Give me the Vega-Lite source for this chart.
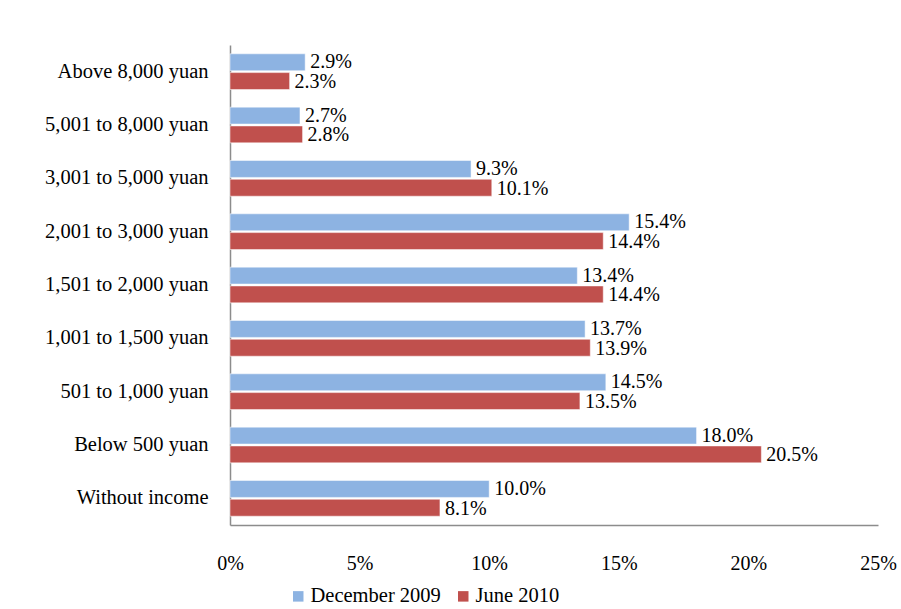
{
  "$schema": "https://vega.github.io/schema/vega-lite/v6.json",
  "width": 648,
  "height": 480,
  "autosize": {"type": "none"},
  "padding": {"left": 230, "top": 45, "right": 23, "bottom": 84},
  "background": "white",
  "config": {
    "font": "Liberation Serif",
    "view": {"stroke": null}
  },
  "data": {
    "values": [
      {"income": "Above 8,000 yuan", "series": "December 2009", "value": 0.029},
      {"income": "Above 8,000 yuan", "series": "June 2010", "value": 0.023},
      {"income": "5,001 to 8,000 yuan", "series": "December 2009", "value": 0.027},
      {"income": "5,001 to 8,000 yuan", "series": "June 2010", "value": 0.028},
      {"income": "3,001 to 5,000 yuan", "series": "December 2009", "value": 0.093},
      {"income": "3,001 to 5,000 yuan", "series": "June 2010", "value": 0.101},
      {"income": "2,001 to 3,000 yuan", "series": "December 2009", "value": 0.154},
      {"income": "2,001 to 3,000 yuan", "series": "June 2010", "value": 0.144},
      {"income": "1,501 to 2,000 yuan", "series": "December 2009", "value": 0.134},
      {"income": "1,501 to 2,000 yuan", "series": "June 2010", "value": 0.144},
      {"income": "1,001 to 1,500 yuan", "series": "December 2009", "value": 0.137},
      {"income": "1,001 to 1,500 yuan", "series": "June 2010", "value": 0.139},
      {"income": "501 to 1,000 yuan", "series": "December 2009", "value": 0.145},
      {"income": "501 to 1,000 yuan", "series": "June 2010", "value": 0.135},
      {"income": "Below 500 yuan", "series": "December 2009", "value": 0.180},
      {"income": "Below 500 yuan", "series": "June 2010", "value": 0.205},
      {"income": "Without income", "series": "December 2009", "value": 0.100},
      {"income": "Without income", "series": "June 2010", "value": 0.081}
    ]
  },
  "encoding": {
    "y": {
      "field": "income",
      "type": "nominal",
      "sort": null,
      "scale": {"paddingInner": 0.33, "paddingOuter": 0.165},
      "axis": {
        "title": null,
        "ticks": false,
        "labelFontSize": 20.5,
        "labelColor": "#000000",
        "labelPadding": 22,
        "domainColor": "#8c8c8c",
        "domainWidth": 1.5
      }
    },
    "yOffset": {
      "field": "series",
      "type": "nominal",
      "scale": {"paddingInner": 0.1}
    },
    "x": {
      "field": "value",
      "type": "quantitative",
      "scale": {"domain": [0, 0.25], "nice": false},
      "axis": {
        "title": null,
        "format": ".0%",
        "values": [0, 0.05, 0.1, 0.15, 0.2, 0.25],
        "grid": false,
        "ticks": false,
        "labelFontSize": 20,
        "labelColor": "#000000",
        "labelPadding": 28,
        "labelFlush": false,
        "domainColor": "#8c8c8c",
        "domainWidth": 1.5
      }
    }
  },
  "layer": [
    {
      "mark": {"type": "bar", "stroke": "white", "strokeWidth": 0.5},
      "encoding": {
        "color": {
          "field": "series",
          "type": "nominal",
          "scale": {"domain": ["December 2009", "June 2010"], "range": ["#8DB3E2", "#C0504D"]},
          "legend": {
            "title": null,
            "orient": "none",
            "direction": "horizontal",
            "legendX": 58,
            "legendY": 541,
            "symbolType": "square",
            "symbolSize": 110,
            "symbolStrokeWidth": 0,
            "symbolOpacity": 1,
            "labelFontSize": 20.5,
            "labelColor": "#000000",
            "labelOffset": 2,
            "columnPadding": 12
          }
        }
      }
    },
    {
      "transform": [{"filter": "datum.series === 'December 2009'"}],
      "mark": {"type": "text", "align": "left", "baseline": "middle", "dx": 5, "dy": 0, "fontSize": 20, "color": "#000000"},
      "encoding": {
        "text": {"field": "value", "type": "quantitative", "format": ".1%"}
      }
    },
    {
      "transform": [{"filter": "datum.series === 'June 2010'"}],
      "mark": {"type": "text", "align": "left", "baseline": "middle", "dx": 5, "dy": 1, "fontSize": 20, "color": "#000000"},
      "encoding": {
        "text": {"field": "value", "type": "quantitative", "format": ".1%"}
      }
    }
  ]
}
